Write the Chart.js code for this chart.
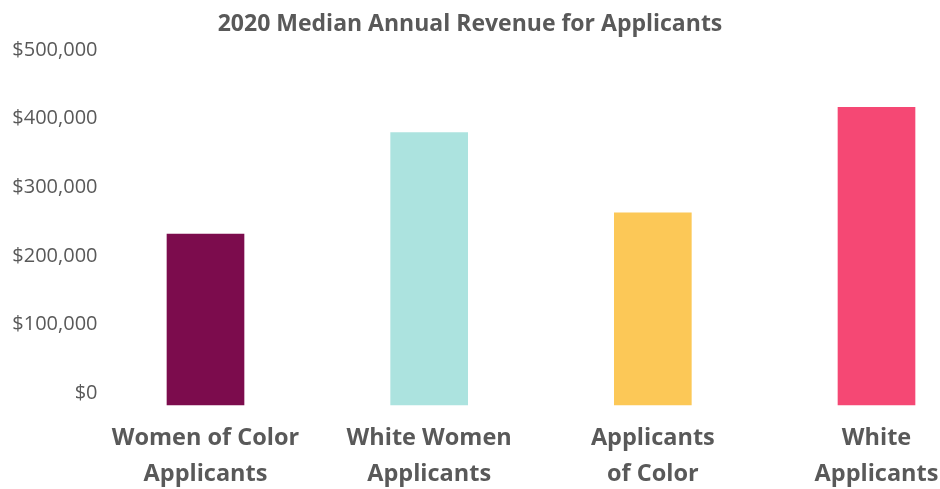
<!DOCTYPE html>
<html>
<head>
<meta charset="utf-8">
<script src="https://cdn.jsdelivr.net/npm/chart.js@4"></script>
<style>
  html, body { margin: 0; padding: 0; background: #fff; }
  #wrap { width: 940px; height: 489px; }
</style>
</head>
<body>
<div id="wrap"><canvas id="revenueChart"></canvas></div>
<script>
// Categorias e valores
const categories = [
    ['Women of Color', 'Applicants'],
    ['White Women', 'Applicants'],
    ['Applicants', 'of Color'],
    ['White', 'Applicants']
];
const revenueValues = [249000, 397000, 280000, 434000];
const barColors = ['#7C0C4D', '#ACE3DF', '#FCC857', '#F54874'];
const yTicks = [0, 100000, 200000, 300000, 400000, 500000];

document.addEventListener('DOMContentLoaded', () => {
    const ctx = document.getElementById('revenueChart').getContext('2d');
    new Chart(ctx, {
        type: 'bar',
        data: {
            labels: categories,
            datasets: [{
                label: 'Median Annual Revenue',
                data: revenueValues,
                backgroundColor: barColors,
                barThickness: 77,
                clip: false
            }]
        },
        options: {
            responsive: true,
            maintainAspectRatio: false,
            animation: false,
            layout: { padding: 0 },
            plugins: {
                legend: { display: false },
                tooltip: { enabled: false },
                title: {
                    display: true,
                    text: '2020 Median Annual Revenue for Applicants',
                    color: '#595959',
                    font: { family: "'Open Sans'", size: 23, weight: 'bold', lineHeight: 1.2 },
                    padding: { top: 10.5, bottom: 23.9 }
                }
            },
            scales: {
                x: {
                    offset: false,
                    grid: { display: false, drawTicks: false },
                    border: { display: false },
                    ticks: {
                        color: '#595959',
                        padding: 15,
                        maxRotation: 0,
                        autoSkip: false,
                        font: { family: "'Open Sans'", size: 23.5, weight: 'bold', lineHeight: 1.53 }
                    },
                    afterFit: (scale) => {
                        scale.height = 84;
                        scale.paddingLeft = 0;
                        scale.paddingRight = 0;
                    }
                },
                y: {
                    min: 0,
                    max: 500000,
                    grid: { display: false, drawTicks: false },
                    border: { display: false },
                    afterBuildTicks: (scale) => { scale.ticks = yTicks.map(v => ({ value: v })); },
                    ticks: {
                        color: '#595959',
                        padding: 108,
                        labelOffset: -12,
                        font: { family: "'Open Sans'", size: 20 },
                        callback: (v) => '$' + Number(v).toLocaleString('en-US')
                    },
                    afterFit: (scale) => {
                        scale.width = 205.5;
                        scale.paddingTop = 0;
                        scale.paddingBottom = 0;
                    }
                },
                yRight: {
                    position: 'right',
                    display: true,
                    grid: { display: false, drawTicks: false },
                    border: { display: false },
                    ticks: { display: false },
                    afterFit: (scale) => {
                        scale.width = 63.5;
                        scale.paddingTop = 0;
                        scale.paddingBottom = 0;
                    }
                }
            }
        }
    });
});
</script>
</body>
</html>
